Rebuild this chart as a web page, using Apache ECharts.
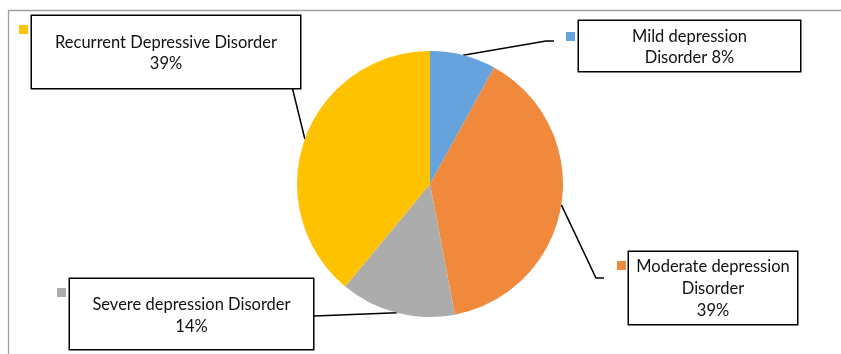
<!DOCTYPE html>
<html>
<head>
<meta charset="utf-8">
<script src="https://cdn.jsdelivr.net/npm/echarts@6/dist/echarts.min.js"></script>
<style>html,body{margin:0;padding:0;background:#fff;}#c{width:841px;height:354px;}</style>
</head>
<body>
<div id="c"></div>
<script>
// ---- data ----
const categories = ['Mild depression Disorder', 'Moderate depression Disorder', 'Severe depression Disorder', 'Recurrent Depressive Disorder'];
const values = [8, 39, 14, 39];
const labelTexts = ['Mild depression\nDisorder {d}%', 'Moderate depression\nDisorder\n{d}%', 'Severe depression Disorder\n{d}%', 'Recurrent Depressive Disorder\n{d}%'];
const colors = ['#66a3dc', '#f0893c', '#acacac', '#ffc200'];

// ---- layout of label boxes (positions only) ----
const boxes = [
  {x: 579, y: 21, w: 221, lh: 21, pad: [5, 0, 3, 0], bend: [-33, 20, 'L'], end: [-25, 20, 'L'], key: [566, 32]},
  {x: 629, y: 252, w: 168, lh: 22, pad: [4, 0, 2, 0], bend: [-33, 26, 'L'], end: [-25, 26, 'L'], key: [617, 261]},
  {x: 70, y: 279, w: 243, lh: 22, pad: [15, 0, 11, 0], bend: null, end: [-24, 38, 'R'], key: [57, 288]},
  {x: 32, y: 16, w: 268, lh: 21, pad: [16, 0, 14, 0], bend: [-16, 38, 'R'], end: [-24, 38, 'R'], key: [19, 25]}
];
function pt(b, p) {
  const bx = p[2] === 'L' ? b.x : b.x + b.w;
  return [bx + p[0], b.y + p[1]];
}

const FONT = 'Lato';
const chart = echarts.init(document.getElementById('c'), null, {renderer: 'canvas'});

const data = categories.map((name, i) => ({
  name: name,
  value: values[i],
  itemStyle: {color: colors[i]},
  label: {
    formatter: labelTexts[i],
    width: boxes[i].w,
    padding: boxes[i].pad,
    lineHeight: boxes[i].lh
  }
}));

const legends = categories.map((name, i) => ({
  data: [name],
  left: boxes[i].key[0],
  top: boxes[i].key[1],
  padding: 0,
  itemWidth: 9,
  itemHeight: 9,
  icon: 'rect',
  selectedMode: false,
  formatter: () => '',
  textStyle: {fontSize: 1}
}));

chart.setOption({
  animation: false,
  color: colors,
  legend: legends,
  graphic: [{
    type: 'rect',
    shape: {x: 8.5, y: 10.5, width: 1000, height: 1000},
    style: {fill: 'none', stroke: '#a0a0a0', lineWidth: 1.3},
    silent: true
  }],
  series: [{
    type: 'pie',
    center: [430, 184],
    radius: 133,
    startAngle: 90,
    clockwise: true,
    avoidLabelOverlap: false,
    itemStyle: {borderWidth: 0},
    emphasis: {disabled: true},
    label: {
      show: true,
      position: 'outside',
      fontFamily: FONT,
      fontSize: 16.5,
      color: '#111',
      align: 'center',
      borderColor: '#000',
      borderWidth: 1.5,
      backgroundColor: '#fff'
    },
    labelLine: {
      show: true,
      lineStyle: {color: '#000', width: 1.5}
    },
    labelLayout: function (p) {
      const b = boxes[p.dataIndex];
      const e = p.labelLinePoints ? p.labelLinePoints[0] : [0, 0];
      const end = pt(b, b.end);
      const bend = b.bend ? pt(b, b.bend) : end;
      return {
        x: b.x + b.w / 2,
        y: b.y,
        align: 'center',
        verticalAlign: 'top',
        width: b.w,
        labelLinePoints: [e, bend, end]
      };
    },
    data: data
  }]
});
</script>
</body>
</html>
